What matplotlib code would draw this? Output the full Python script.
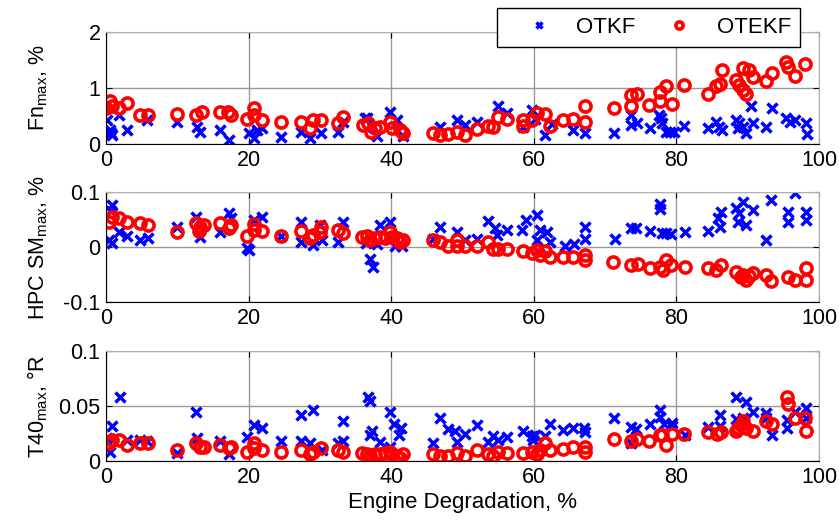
import matplotlib
matplotlib.use('Agg')
import matplotlib.pyplot as plt

plt.rcParams['font.family'] = ['Liberation Sans', 'DejaVu Sans']
plt.rcParams['mathtext.default'] = 'regular'

# --- data ---
# panel 1: Fn_max, %
fn_otkf_x = [0.2, 0.5, 0.9, 0.7, 1.8, 2.9, 5.8, 9.9, 12.8, 13.2, 16.0, 17.2, 20.0, 20.7, 21.2, 21.9,
             24.5, 27.4, 28.6, 30.2, 32.5, 33.3, 36.3, 36.6, 37.5, 38.0, 39.8, 40.8, 41.7, 46.9, 49.2,
             50.3, 52.0, 55.0, 56.2, 58.5, 59.7, 60.2, 61.6, 62.5, 65.5, 67.2, 71.2, 73.6, 73.6, 74.5,
             76.3, 77.5, 77.8, 78.0, 78.6, 79.1, 79.6, 81.0, 84.4, 85.6, 86.0, 86.4, 88.4, 88.8, 88.6,
             89.3, 89.8, 90.4, 90.7, 92.5, 93.4, 95.4, 95.9, 96.7, 98.2, 98.3]
fn_otkf_y = [0.43, 0.25, 0.16, 0.20, 0.52, 0.25, 0.43, 0.40, 0.31, 0.22, 0.25, 0.08, 0.20, 0.11, 0.25, 0.28,
             0.13, 0.22, 0.11, 0.20, 0.22, 0.40, 0.46, 0.46, 0.30, 0.15, 0.58, 0.43, 0.15, 0.31, 0.43,
             0.34, 0.40, 0.67, 0.55, 0.31, 0.61, 0.45, 0.16, 0.35, 0.25, 0.20, 0.19, 0.52, 0.34, 0.37,
             0.28, 0.52, 0.46, 0.37, 0.22, 0.22, 0.22, 0.32, 0.28, 0.40, 0.31, 0.25, 0.43, 0.37, 0.29,
             0.31, 0.19, 0.68, 0.37, 0.31, 0.65, 0.46, 0.40, 0.43, 0.37, 0.18]
fn_otekf_x = [0.6, 0.0, 0.9, 1.8, 2.9, 4.8, 5.9, 9.9, 12.6, 13.4, 16.0, 17.1, 17.5, 19.8, 20.7, 20.8,
              21.9, 24.5, 27.4, 28.6, 29.0, 30.2, 32.5, 33.3, 36.1, 36.8, 37.2, 37.7, 38.4, 39.8, 40.1,
              41.2, 41.7, 45.8, 46.9, 48.0, 49.2, 50.3, 52.0, 53.6, 54.3, 55.0, 56.2, 58.5, 58.5, 59.7,
              60.4, 61.6, 62.3, 64.1, 65.5, 67.2, 67.2, 71.2, 73.6, 73.6, 74.5, 76.2, 77.7, 77.7, 78.6,
              79.4, 81.0, 84.4, 85.6, 86.1, 86.4, 88.4, 88.8, 89.3, 89.8, 89.3, 90.2, 90.8, 92.5, 93.4,
              95.4, 95.6, 96.7, 98.1]
fn_otekf_y = [0.76, 0.64, 0.67, 0.64, 0.73, 0.51, 0.51, 0.54, 0.52, 0.58, 0.58, 0.58, 0.52, 0.44, 0.65, 0.52,
              0.43, 0.39, 0.39, 0.28, 0.43, 0.43, 0.37, 0.49, 0.34, 0.37, 0.22, 0.28, 0.31, 0.40, 0.28,
              0.25, 0.20, 0.20, 0.16, 0.18, 0.22, 0.16, 0.27, 0.32, 0.31, 0.49, 0.44, 0.43, 0.32, 0.43,
              0.55, 0.53, 0.32, 0.43, 0.44, 0.67, 0.40, 0.64, 0.87, 0.67, 0.90, 0.70, 0.92, 0.76, 1.04,
              0.71, 1.05, 0.89, 1.04, 1.08, 1.32, 1.14, 1.05, 0.96, 0.90, 1.35, 1.33, 1.19, 1.13, 1.27,
              1.47, 1.38, 1.21, 1.43]

# panel 2: HPC SM_max, %
sm_otkf_x = [0.9, 0.7, 0.4, 0.9, 1.8, 2.9, 4.8, 5.9, 9.9, 12.6, 13.2, 16.0, 17.2, 17.5, 19.8, 20.0, 20.7,
             21.9, 24.5, 27.4, 27.4, 29.0, 30.0, 30.3, 33.3, 32.5, 38.4, 39.8, 37.0, 37.5, 36.5, 38.0,
             40.5, 41.5, 45.8, 46.9, 49.2, 50.3, 52.0, 53.6, 54.5, 54.8, 56.2, 58.4, 58.9, 60.4, 60.4,
             60.9, 61.8, 62.3, 64.4, 65.6, 67.2, 67.2, 71.4, 73.7, 74.3, 76.3, 77.7, 77.7, 78.0, 78.6,
             79.3, 81.2, 84.4, 85.8, 86.3, 86.1, 88.4, 88.8, 89.3, 88.6, 89.8, 90.7, 92.6, 93.3, 95.6,
             95.6, 96.7, 98.2, 98.2]
sm_otkf_y = [0.076, 0.065, 0.013, 0.007, 0.028, 0.020, 0.013, 0.016, 0.037, 0.054, 0.018, 0.028, 0.061,
             0.053, -0.002, -0.006, 0.049, 0.054, 0.020, 0.046, 0.010, 0.004, 0.040, 0.013, 0.046, 0.010,
             0.040, 0.046, -0.021, -0.036, 0.008, 0.005, 0.001, 0.001, 0.015, 0.037, 0.028, 0.013, 0.015,
             0.048, 0.034, 0.022, 0.031, 0.031, 0.050, 0.058, 0.013, 0.031, 0.028, 0.010, 0.001, 0.005,
             0.037, 0.015, 0.014, 0.034, 0.034, 0.030, 0.079, 0.070, 0.025, 0.025, 0.023, 0.028, 0.029,
             0.052, 0.064, 0.037, 0.071, 0.062, 0.082, 0.046, 0.040, 0.067, 0.013, 0.085, 0.064, 0.046,
             0.099, 0.064, 0.049]
sm_otekf_x = [0.4, 0.9, 1.8, 2.9, 4.8, 5.9, 9.9, 12.6, 13.2, 13.7, 13.1, 16.0, 17.2, 17.5, 19.8, 20.7,
              20.8, 21.9, 24.5, 27.4, 28.6, 29.0, 30.2, 30.0, 32.5, 33.3, 35.9, 36.6, 37.0, 37.7, 38.4,
              39.1, 39.8, 40.1, 40.8, 41.2, 41.7, 45.8, 46.9, 48.0, 49.2, 49.2, 50.3, 52.0, 53.6, 54.3,
              55.0, 56.2, 58.5, 59.7, 60.4, 60.9, 61.6, 62.3, 64.1, 65.5, 67.2, 67.2, 71.1, 73.7, 74.6,
              76.3, 77.7, 78.1, 78.6, 79.3, 81.2, 84.4, 85.6, 86.3, 88.4, 89.0, 89.3, 89.8, 90.2, 90.7,
              92.5, 93.3, 95.6, 96.7, 98.2, 98.2]
sm_otekf_y = [0.046, 0.055, 0.052, 0.045, 0.043, 0.040, 0.028, 0.043, 0.037, 0.040, 0.030, 0.043, 0.034,
              0.040, 0.020, 0.042, 0.031, 0.030, 0.020, 0.030, 0.016, 0.022, 0.037, 0.028, 0.031, 0.025,
              0.018, 0.020, 0.013, 0.016, 0.019, 0.016, 0.028, 0.018, 0.016, 0.010, 0.013, 0.013, 0.010,
              0.002, 0.013, 0.001, 0.001, 0.002, 0.010, -0.003, -0.004, -0.003, -0.008, -0.011, -0.005,
              -0.015, -0.008, -0.018, -0.019, -0.018, -0.015, -0.024, -0.027, -0.033, -0.030, -0.039,
              -0.036, -0.042, -0.024, -0.033, -0.037, -0.039, -0.042, -0.033, -0.046, -0.055, -0.050,
              -0.060, -0.052, -0.048, -0.050, -0.062, -0.055, -0.060, -0.038, -0.060]

# panel 3: T40_max, degR
t40_otkf_x = [1.9, 0.9, 0.2, 0.5, 2.9, 4.8, 5.8, 9.9, 12.6, 12.8, 16.0, 17.3, 19.8, 20.7, 21.9, 24.5,
              27.4, 27.4, 29.0, 28.6, 30.3, 33.3, 33.3, 32.5, 36.8, 37.0, 37.3, 37.0, 38.4, 39.8, 40.4,
              41.4, 41.1, 39.8, 45.8, 46.9, 48.0, 49.0, 50.3, 49.2, 52.0, 53.6, 54.3, 55.0, 56.2, 58.5,
              59.7, 60.2, 61.6, 59.9, 62.3, 64.1, 65.5, 67.0, 67.2, 71.2, 73.7, 73.7, 74.3, 76.3, 77.7,
              77.7, 78.3, 79.4, 79.4, 81.2, 84.4, 86.1, 86.1, 88.4, 89.8, 88.4, 89.3, 90.8, 92.5, 92.5,
              93.4, 95.5, 95.5, 96.7, 98.2, 98.2]
t40_otkf_y = [0.058, 0.032, 0.021, 0.008, 0.019, 0.019, 0.018, 0.007, 0.045, 0.021, 0.018, 0.006, 0.022,
              0.033, 0.030, 0.018, 0.042, 0.018, 0.046, 0.016, 0.010, 0.036, 0.018, 0.016, 0.058, 0.055,
              0.027, 0.024, 0.017, 0.045, 0.034, 0.030, 0.024, 0.013, 0.016, 0.039, 0.029, 0.027, 0.025,
              0.017, 0.033, 0.017, 0.023, 0.019, 0.022, 0.027, 0.023, 0.024, 0.023, 0.019, 0.034, 0.028,
              0.030, 0.030, 0.026, 0.039, 0.031, 0.016, 0.029, 0.034, 0.046, 0.040, 0.034, 0.035, 0.032,
              0.024, 0.031, 0.042, 0.032, 0.058, 0.054, 0.038, 0.039, 0.045, 0.044, 0.039, 0.024, 0.037,
              0.030, 0.045, 0.048, 0.039]
t40_otekf_x = [0.4, 0.9, 1.8, 2.9, 4.8, 5.9, 9.9, 12.6, 13.2, 13.7, 16.0, 17.2, 17.5, 19.8, 20.7, 20.8,
               21.9, 24.5, 27.4, 28.6, 29.0, 30.2, 32.5, 33.3, 35.9, 36.6, 37.0, 37.7, 38.4, 39.1, 39.8,
               40.1, 40.8, 41.2, 41.7, 45.8, 46.9, 48.0, 49.2, 50.3, 52.0, 53.6, 54.3, 55.0, 56.2, 58.5,
               59.7, 60.4, 60.9, 61.6, 62.3, 64.1, 65.5, 67.2, 67.2, 71.2, 73.6, 74.5, 76.2, 77.7, 78.0,
               78.6, 79.4, 81.0, 84.4, 85.7, 86.2, 88.4, 88.6, 89.0, 89.3, 89.8, 90.7, 92.5, 93.4, 95.5,
               95.6, 96.6, 98.1, 98.2]
t40_otekf_y = [0.016, 0.019, 0.019, 0.015, 0.016, 0.016, 0.010, 0.016, 0.013, 0.013, 0.015, 0.012, 0.013,
               0.008, 0.016, 0.012, 0.010, 0.008, 0.010, 0.006, 0.008, 0.012, 0.010, 0.008, 0.007, 0.006,
               0.005, 0.006, 0.006, 0.007, 0.008, 0.006, 0.005, 0.003, 0.006, 0.006, 0.005, 0.005, 0.007,
               0.005, 0.010, 0.006, 0.005, 0.008, 0.007, 0.007, 0.008, 0.006, 0.010, 0.016, 0.010, 0.011,
               0.013, 0.013, 0.008, 0.020, 0.018, 0.020, 0.018, 0.024, 0.024, 0.015, 0.025, 0.025, 0.026,
               0.025, 0.026, 0.027, 0.030, 0.033, 0.036, 0.030, 0.027, 0.036, 0.034, 0.058, 0.052, 0.039,
               0.039, 0.027]

x_ticks = [0, 20, 40, 60, 80, 100]
panels = [
    (fn_otkf_x, fn_otkf_y, fn_otekf_x, fn_otekf_y, 'Fn$_{max}$, %',
     [0, 1, 2], ['0', '1', '2'], (0, 2)),
    (sm_otkf_x, sm_otkf_y, sm_otekf_x, sm_otekf_y, 'HPC SM$_{max}$, %',
     [-0.1, 0, 0.1], ['-0.1', '0', '0.1'], (-0.1, 0.1)),
    (t40_otkf_x, t40_otkf_y, t40_otekf_x, t40_otekf_y, 'T40$_{max}$, °R',
     [0, 0.05, 0.1], ['0', '0.05', '0.1'], (0, 0.1)),
]

W, H = 839, 521
fig = plt.figure(figsize=(W / 100, H / 100), dpi=100)
boxes = [(32, 144), (192, 302), (351, 461)]
fs = 15.5

for (bx, by, rx, ry, ylab, yt, ytl, ylim), (top, bot) in zip(panels, boxes):
    ax = fig.add_axes([106 / W, 1 - bot / H, (819 - 106) / W, (bot - top) / H])
    h1, = ax.plot(bx, by, 'x', color='blue', ms=7, mew=2.5, ls='none', label='OTKF')
    h2, = ax.plot(rx, ry, 'o', color='red', mfc='none', ms=8, mew=2.6, ls='none', label='OTEKF')
    ax.set_xlim(0, 100)
    ax.set_ylim(*ylim)
    ax.set_xticks(x_ticks)
    ax.set_xticklabels([str(t) for t in x_ticks])
    ax.set_yticks(yt)
    ax.set_yticklabels(ytl)
    ax.grid(True, color='#999999', lw=1)
    ax.set_axisbelow(True)
    ax.tick_params(direction='in', length=4, top=True, right=True, labelsize=fs, pad=4)
    for s in ['top', 'right']:
        ax.spines[s].set_color('#b0b0b0')
    ax.set_ylabel(ylab, fontsize=fs)
    ax.yaxis.set_label_coords((50 - 106) / 713, 0.5)
    if ylab.startswith('T40'):
        ax.set_xlabel('Engine Degradation, %', fontsize=fs + 0.5, labelpad=3)

leg = fig.legend([h1, h2], ['OTKF', 'OTEKF'], ncol=2, loc='upper right',
                 bbox_to_anchor=(800 / W, 1 - 8 / H), fontsize=fs + 0.5, frameon=True,
                 fancybox=False, edgecolor='black', framealpha=1, borderaxespad=0,
                 markerscale=0.65, handlelength=2.9, handletextpad=0.25, columnspacing=0.5,
                 borderpad=0.4)
leg.get_frame().set_linewidth(1)

fig.savefig('out.png', dpi=100)
